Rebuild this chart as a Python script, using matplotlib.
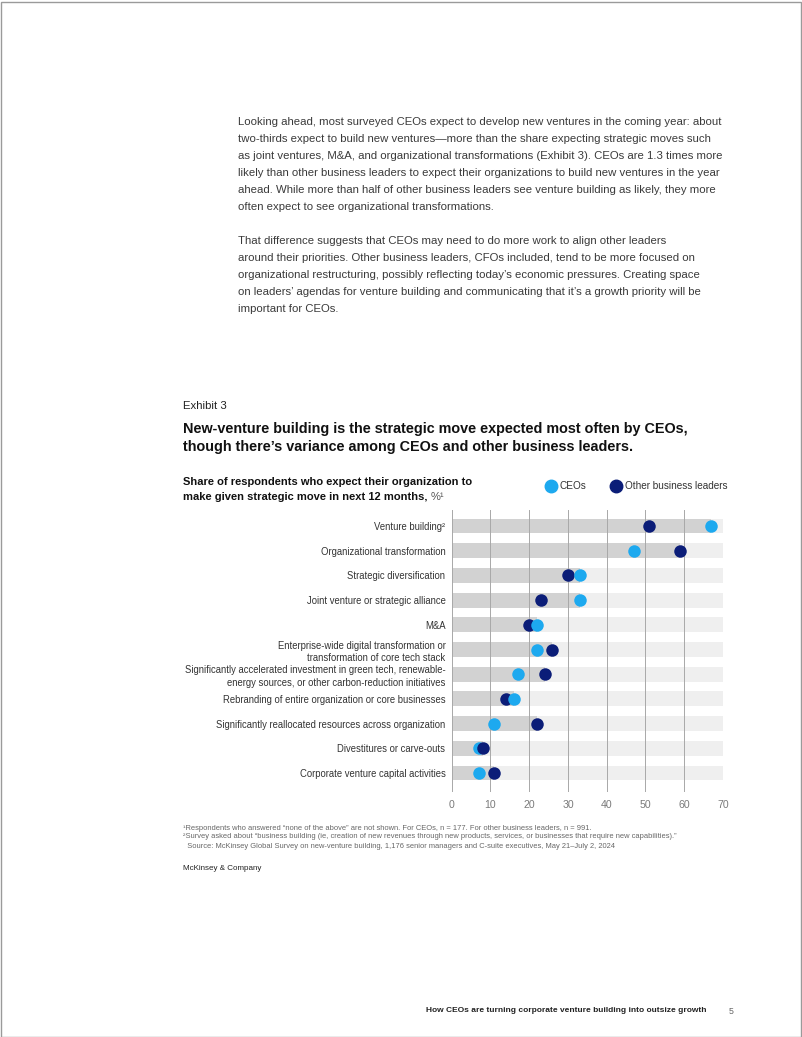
import matplotlib.pyplot as plt
from matplotlib.lines import Line2D
from matplotlib.patches import Rectangle

# data read from the exhibit
categories = [
    "Venture building\u00b2",
    "Organizational transformation",
    "Strategic diversification",
    "Joint venture or strategic alliance",
    "M&A",
    "Enterprise-wide digital transformation or\ntransformation of core tech stack",
    "Significantly accelerated investment in green tech, renewable-\nenergy sources, or other carbon-reduction initiatives",
    "Rebranding of entire organization or core businesses",
    "Significantly reallocated resources across organization",
    "Divestitures or carve-outs",
    "Corporate venture capital activities",
]
ceos = [67, 47, 33, 33, 22, 22, 17, 16, 11, 7, 7]
other_leaders = [51, 59, 30, 23, 20, 26, 24, 14, 22, 8, 11]
x_ticks = [0, 10, 20, 30, 40, 50, 60, 70]

CEO_COL = "#1da9ef"
OTHER_COL = "#0b1d78"
W, H = 802, 1037

plt.rcParams["font.family"] = ["Liberation Sans", "DejaVu Sans"]
fig = plt.figure(figsize=(W / 100, H / 100), dpi=100)


def px(x, y):
    return x / W, 1 - y / H


# page border
fig.add_artist(Rectangle((0.5 / W, 0.5 / H), 1 - 1.5 / W, 1 - 2.5 / H,
                         transform=fig.transFigure, fill=False,
                         edgecolor="#9a9a9a", linewidth=1.0))

# body text
para1 = [
    "Looking ahead, most surveyed CEOs expect to develop new ventures in the coming year: about",
    "two-thirds expect to build new ventures\u2014more than the share expecting strategic moves such",
    "as joint ventures, M&A, and organizational transformations (Exhibit 3). CEOs are 1.3 times more",
    "likely than other business leaders to expect their organizations to build new ventures in the year",
    "ahead. While more than half of other business leaders see venture building as likely, they more",
    "often expect to see organizational transformations.",
]
para2 = [
    "That difference suggests that CEOs may need to do more work to align other leaders",
    "around their priorities. Other business leaders, CFOs included, tend to be more focused on",
    "organizational restructuring, possibly reflecting today\u2019s economic pressures. Creating space",
    "on leaders\u2019 agendas for venture building and communicating that it\u2019s a growth priority will be",
    "important for CEOs.",
]
for i, line in enumerate(para1):
    fig.text(*px(238, 122 + i * 16.9), line, fontsize=8.2, color="#3a3a3a", va="center")
for i, line in enumerate(para2):
    fig.text(*px(238, 241 + i * 16.9), line, fontsize=8.2, color="#3a3a3a", va="center")

# exhibit header
fig.text(*px(183, 406), "Exhibit 3", fontsize=8.2, color="#222222", va="center")
fig.text(*px(183, 429), "New-venture building is the strategic move expected most often by CEOs,",
         fontsize=10.4, fontweight="bold", color="#111111", va="center")
fig.text(*px(183, 447), "though there\u2019s variance among CEOs and other business leaders.",
         fontsize=10.4, fontweight="bold", color="#111111", va="center")
fig.text(*px(183, 482), "Share of respondents who expect their organization to",
         fontsize=8.0, fontweight="bold", color="#111111", va="center")
sub2 = fig.text(*px(183, 497), "make given strategic move in next 12 months,",
                fontsize=8.0, fontweight="bold", color="#111111", va="center")

# legend, drawn by hand in figure pixels
fig.add_artist(Line2D([551 / W], [1 - 486 / H], marker="o", markersize=9,
                      color=CEO_COL, transform=fig.transFigure))
fig.text(*px(560, 486), "CEOs", fontsize=7.2, color="#333333", va="center")
fig.add_artist(Line2D([616 / W], [1 - 486 / H], marker="o", markersize=9,
                      color=OTHER_COL, transform=fig.transFigure))
fig.text(*px(625, 486), "Other business leaders", fontsize=7.2, color="#333333", va="center")

# chart
ax = fig.add_axes([451.7 / W, 1 - 792 / H, (723 - 451.7) / W, (792 - 510) / H])
n = len(categories)
rows = list(range(n))
band_h = 0.6
for r in rows:
    ax.barh(r, 70, height=band_h, color="#efefef", zorder=1)
    ax.barh(r, max(ceos[r], other_leaders[r]), height=band_h, color="#d2d2d2", zorder=2)
for t in x_ticks:
    ax.axvline(t, color="#a8a8a8", linewidth=0.7, zorder=3)
for r in rows:
    pts = sorted([(ceos[r], CEO_COL), (other_leaders[r], OTHER_COL)])
    for k, (v, c) in enumerate(pts):
        ax.plot(v, r, marker="o", markersize=9, color=c, markeredgewidth=0,
                linestyle="none", zorder=4 + k)

ax.set_xlim(0, 70)
ax.set_ylim(n - 1 + 0.77, -0.65)
ax.set_xticks(x_ticks)
ax.set_xticklabels([str(t) for t in x_ticks], fontsize=7.6, color="#7a7a7a")
ax.set_yticks(rows)
ax.set_yticklabels(categories, fontsize=6.85, color="#333333", linespacing=1.35)
for lab in ax.get_yticklabels():
    lab.set_horizontalalignment("right")
ax.tick_params(axis="both", length=0)
ax.tick_params(axis="y", pad=4.5)
ax.tick_params(axis="x", pad=6)
for s in ax.spines.values():
    s.set_visible(False)
ax.set_facecolor("none")

# unit after the subtitle, in regular weight
ax.annotate("%\u00b9", xy=(1, 0.5), xycoords=sub2, xytext=(2.5, 0),
            textcoords="offset points", va="center", fontsize=8.0,
            color="#555555", annotation_clip=False)

# footnotes and source
notes = [
    "\u00b9Respondents who answered \u201cnone of the above\u201d are not shown. For CEOs, n = 177. For other business leaders, n = 991.",
    "\u00b2Survey asked about \u201cbusiness building (ie, creation of new revenues through new products, services, or businesses that require new capabilities).\u201d",
    "  Source: McKinsey Global Survey on new-venture building, 1,176 senior managers and C-suite executives, May 21\u2013July 2, 2024",
]
for i, line in enumerate(notes):
    fig.text(*px(183, 828 + i * 9), line, fontsize=5.4, color="#666666", va="center")
fig.text(*px(183, 869), "McKinsey & Company", fontsize=5.8, color="#222222", va="center")

# page footer
fig.text(*px(426, 1011), "How CEOs are turning corporate venture building into outsize growth",
         fontsize=6.0, fontweight="bold", color="#222222", va="center")
fig.text(*px(729, 1011), "5", fontsize=6.3, color="#666666", va="center")

fig.savefig("out.png", dpi=100)
